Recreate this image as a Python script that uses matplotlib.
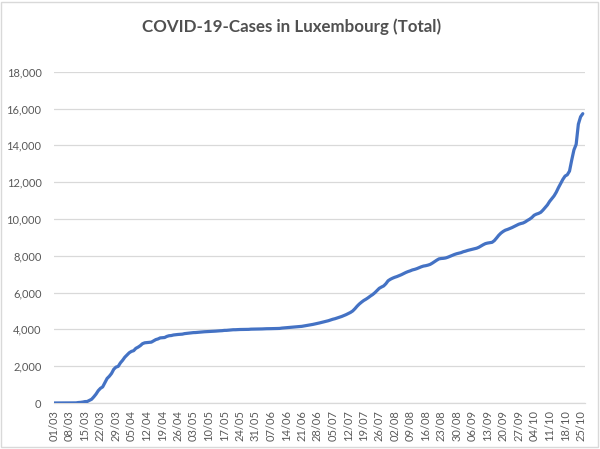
import matplotlib
matplotlib.use("Agg")
import matplotlib.pyplot as plt
from matplotlib.patches import Rectangle
from matplotlib.ticker import FuncFormatter

plt.rcParams['font.family'] = ['Lato', 'DejaVu Sans']

# cumulative cases, one value per day
mar = [1, 1, 1, 1, 2, 3, 4, 5, 5, 7, 7, 26, 34, 51, 77, 81, 140, 203, 335, 484,
       670, 798, 875, 1099, 1333, 1453, 1605, 1831, 1950, 1988, 2178]
apr = [2319, 2487, 2612, 2729, 2804, 2843, 2970, 3034, 3115, 3223, 3270, 3281,
       3292, 3307, 3373, 3444, 3480, 3537, 3550, 3558, 3618, 3654, 3665, 3695,
       3711, 3723, 3729, 3741, 3769, 3784]
may = [3802, 3812, 3824, 3828, 3840, 3851, 3859, 3871, 3877, 3886, 3888, 3894,
       3904, 3915, 3923, 3930, 3945, 3947, 3958, 3971, 3980, 3981, 3990, 3993,
       3995, 3995, 3998, 4001, 4012, 4016, 4018]
jun = [4019, 4020, 4024, 4032, 4035, 4039, 4039, 4040, 4045, 4048, 4052, 4070,
       4080, 4090, 4100, 4105, 4115, 4125, 4135, 4150, 4165, 4185, 4205, 4225,
       4245, 4270, 4295, 4320, 4350, 4380]
jul = [4410, 4440, 4470, 4510, 4550, 4580, 4620, 4660, 4700, 4750, 4800, 4860,
       4920, 5000, 5120, 5260, 5380, 5480, 5570, 5640, 5720, 5810, 5890, 5990,
       6110, 6230, 6300, 6360, 6480, 6640, 6720]
aug = [6780, 6830, 6870, 6920, 6970, 7030, 7090, 7140, 7180, 7230, 7260, 7300,
       7350, 7400, 7440, 7460, 7490, 7530, 7600, 7680, 7760, 7830, 7850, 7860,
       7880, 7920, 7970, 8020, 8070, 8110, 8140]
sep = [8170, 8220, 8250, 8290, 8320, 8350, 8380, 8410, 8460, 8530, 8600, 8660,
       8690, 8710, 8730, 8820, 8960, 9110, 9230, 9320, 9390, 9430, 9480, 9530,
       9590, 9650, 9710, 9750, 9780, 9840]
oct_ = [9920, 9990, 10080, 10200, 10260, 10300, 10360, 10480, 10620, 10760,
        10950, 11100, 11250, 11450, 11700, 11920, 12150, 12330, 12400, 12600,
        13200, 13750, 14050, 15150, 15550, 15720]

week_labels = ['01/03', '08/03', '15/03', '22/03', '29/03', '05/04', '12/04',
               '19/04', '26/04', '03/05', '10/05', '17/05', '24/05', '31/05',
               '07/06', '14/06', '21/06', '28/06', '05/07', '12/07', '19/07',
               '26/07', '02/08', '09/08', '16/08', '23/08', '30/08', '06/09',
               '13/09', '20/09', '27/09', '04/10', '11/10', '18/10', '25/10']

cases = mar + apr + may + jun + jul + aug + sep + oct_
days = list(range(len(cases)))

grey_txt = '#595959'
grid_col = '#D9D9D9'

fig = plt.figure(figsize=(6.0, 4.49), dpi=100)
ax = fig.add_axes([54 / 600, 1 - 403 / 449, 531 / 600, (403 - 71.7) / 449])

ax.plot(days, cases, color='#4472C4', lw=2.3, solid_capstyle='round',
        solid_joinstyle='round', zorder=3)

ax.set_xlim(0, 240)
ax.set_ylim(0, 18000)
ax.set_yticks(range(0, 18001, 2000))
ax.yaxis.set_major_formatter(FuncFormatter(lambda v, p: f'{int(v):,}'))
ax.set_xticks(range(0, 7 * len(week_labels), 7))
ax.set_xticklabels(week_labels, rotation=90)

ax.grid(axis='y', color=grid_col, lw=0.9)
ax.set_axisbelow(True)
for s in ['top', 'right', 'left']:
    ax.spines[s].set_visible(False)
ax.spines['bottom'].set_color(grid_col)
ax.spines['bottom'].set_linewidth(0.9)
ax.tick_params(axis='y', length=0, pad=9, labelsize=8, labelcolor=grey_txt)
ax.tick_params(axis='x', length=0, pad=5, labelsize=8, labelcolor=grey_txt)

fig.text(0.486, 1 - 27 / 449, 'COVID-19-Cases in Luxembourg (Total)',
         ha='center', va='center', fontsize=12.2, fontweight='bold',
         color='#505050')

fig.patches.append(Rectangle((1 / 600, 2 / 449), 597 / 600, 445 / 449,
                             transform=fig.transFigure, fill=False,
                             edgecolor=grid_col, lw=1))

fig.savefig('out.png', dpi=100)
